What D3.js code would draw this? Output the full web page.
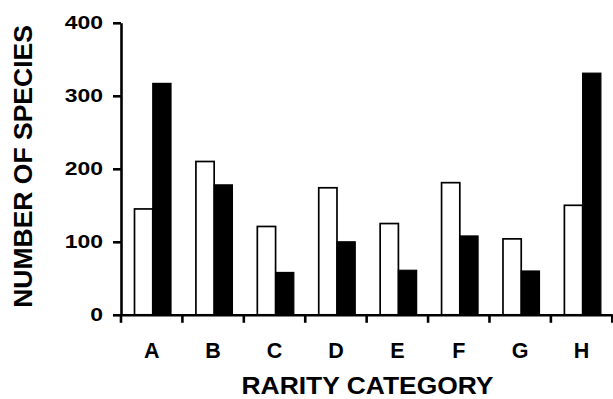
<!DOCTYPE html>
<html><head><meta charset="utf-8">
<script src="https://cdn.jsdelivr.net/npm/d3@7"></script>
<style>
body{margin:0;background:#fff;}
text{font-family:"Liberation Sans",Arial,Helvetica,sans-serif;font-weight:bold;fill:#000;}
</style></head>
<body><svg id="chart" width="613" height="399"></svg>
<script>
const categories = ["A","B","C","D","E","F","G","H"];
const whiteValues = [145, 210, 121, 174, 125, 181, 104, 150];
const blackValues = [317, 178, 58, 100, 61, 108, 60, 331];
const yTicks = [0, 100, 200, 300, 400];
const seriesNames = ["open","filled"];

const svg = d3.select("#chart");
const x = d3.scaleBand().domain(categories).range([121, 612.3]).padding(0);
const xSub = d3.scaleBand().domain(seriesNames).range([13.5, 50]);
const y = d3.scaleLinear().domain([0, 400]).range([314.8, 22.8]);

const rows = categories.map((c, i) => ({cat: c, open: whiteValues[i], filled: blackValues[i]}));

// bars
const g = svg.append("g");
rows.forEach(r => {
  g.append("rect")
    .attr("x", x(r.cat) + xSub("open"))
    .attr("y", y(r.open))
    .attr("width", xSub.bandwidth())
    .attr("height", y(0) - y(r.open))
    .attr("fill", "#fff").attr("stroke", "#000").attr("stroke-width", 1.7);
  g.append("rect")
    .attr("x", x(r.cat) + xSub("filled"))
    .attr("y", y(r.filled))
    .attr("width", xSub.bandwidth())
    .attr("height", y(0) - y(r.filled))
    .attr("fill", "#000").attr("stroke", "#000").attr("stroke-width", 1.2);
});

// y axis
const yAxis = svg.append("g").attr("transform", `translate(${x.range()[0]},0)`)
  .call(d3.axisLeft(y).tickValues(yTicks).tickSize(8).tickSizeOuter(0).tickPadding(10).tickFormat(d3.format("d")));
yAxis.select(".domain").attr("stroke-width", 2.6);
yAxis.selectAll(".tick line").attr("stroke-width", 2.6);
yAxis.selectAll(".tick text").style("font-size", "18.5px").each(function(){
  const w = this.getComputedTextLength();
  d3.select(this).attr("textLength", w * 1.24).attr("lengthAdjust", "spacingAndGlyphs");
});

// x axis (labels at band centers)
const xAxis = svg.append("g").attr("transform", `translate(0,${y(0)})`)
  .call(d3.axisBottom(x).tickSize(0).tickSizeOuter(0).tickPadding(28));
xAxis.select(".domain").attr("stroke-width", 2.6);
xAxis.selectAll(".tick text").style("font-size", "21.5px");

// boundary ticks
const bounds = categories.map(c => x(c)).concat([x.range()[1]]);
svg.append("g").selectAll("line").data(bounds).join("line")
  .attr("x1", d => d).attr("x2", d => d)
  .attr("y1", y(0)).attr("y2", y(0) + 8)
  .attr("stroke", "#000").attr("stroke-width", 2.6);

// titles
svg.append("text")
  .attr("x", 367.5).attr("y", 393.8)
  .attr("text-anchor", "middle")
  .style("font-size", "23px")
  .attr("textLength", 252).attr("lengthAdjust", "spacingAndGlyphs")
  .text("RARITY CATEGORY");

svg.append("text")
  .attr("transform", "translate(32,166.5) rotate(-90)")
  .attr("text-anchor", "middle")
  .style("font-size", "26.5px")
  .text("NUMBER OF SPECIES");
</script></body></html>
